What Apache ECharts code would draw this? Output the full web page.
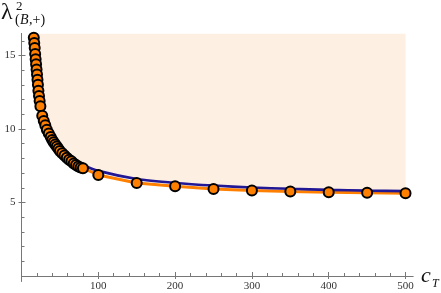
<!DOCTYPE html>
<html>
<head>
<meta charset="utf-8">
<script src="https://cdn.jsdelivr.net/npm/echarts@6/dist/echarts.min.js"></script>
<style>
html,body{margin:0;padding:0;background:#fff;}
#chart{width:441px;height:293px;}
</style>
</head>
<body>
<div id="chart"></div>
<script>
// ---- data ----
var cOrange = [16, 16.6, 17.2, 17.8, 18.4, 19, 19.6, 20.2, 20.8, 21.4, 22, 22.8, 23.6, 24.6,
  27, 29, 31, 33, 35.5, 38, 40, 42, 44, 46, 48, 50, 53, 56, 59, 62, 65, 68, 71, 74, 77, 80,
  100, 150, 200, 250, 300, 350, 400, 450, 500];
var lamOrange = [16.2, 15.85, 15.5, 15.1, 14.75, 14.4, 14.05, 13.7, 13.35, 13.0, 12.6, 12.25, 11.9, 11.55,
  10.9, 10.55, 10.25, 9.95, 9.7, 9.45, 9.25, 9.1, 8.95, 8.8, 8.65, 8.5, 8.35, 8.2, 8.05, 7.9, 7.8, 7.65, 7.55, 7.45, 7.38, 7.33,
  6.87, 6.33, 6.1, 5.92, 5.82, 5.75, 5.7, 5.67, 5.63];
var cBlue = [16.3, 18, 20, 22, 25, 28, 32, 36, 40, 45, 50, 60, 70, 80, 100, 150, 200, 250, 300, 350, 400, 450, 500];
var lamBlue = [16.5, 15.3, 14.1, 13.0, 11.85, 11.05, 10.35, 9.85, 9.45, 9.05, 8.75, 8.25, 7.85, 7.55,
  7.15, 6.6, 6.33, 6.15, 6.02, 5.93, 5.86, 5.81, 5.77];
var xMajor = [100, 200, 300, 400, 500];
var xMinor = [20, 40, 60, 80, 120, 140, 160, 180, 220, 240, 260, 280, 320, 340, 360, 380, 420, 440, 460, 480];
var yMajor = [5, 10, 15];
var yMinor = [1, 2, 3, 4, 6, 7, 8, 9, 11, 12, 13, 14, 16];
var xMin = 0, xMax = 510, yMin = 0, yMax = 16.5;
var regionLabel = 'excluded region';

function zip(a, b) { return a.map(function (v, i) { return [v, b[i]]; }); }

var AXIS = '#777777';
var SERIF = '"Liberation Serif","DejaVu Serif",serif';
var gridPos = { left: 21.5, top: 33.4, width: 391.7, height: 242.6 };

function tickAxis(gridIndex, min, max, values, inside, len) {
  return {
    type: 'value', gridIndex: gridIndex, min: min, max: max,
    axisLine: { show: false },
    axisTick: { show: true, inside: inside, length: len, customValues: values, lineStyle: { color: AXIS } },
    axisLabel: { show: false },
    splitLine: { show: false }
  };
}

var chart = echarts.init(document.getElementById('chart'), null, { renderer: 'canvas' });
chart.setOption({
  animation: false,
  backgroundColor: '#ffffff',
  grid: [
    Object.assign({ containLabel: false }, gridPos),
    Object.assign({ containLabel: false }, gridPos),
    Object.assign({ containLabel: false }, gridPos)
  ],
  xAxis: [{
    type: 'value', gridIndex: 0, min: xMin, max: xMax,
    axisLine: { show: true, onZero: false, lineStyle: { color: AXIS, width: 1 } },
    axisTick: { show: true, inside: true, length: 4, customValues: xMajor, lineStyle: { color: AXIS } },
    axisLabel: { show: true, customValues: xMajor, color: '#333', fontFamily: SERIF, fontSize: 11, margin: 5 },
    splitLine: { show: false }
  },
    tickAxis(1, xMin, xMax, xMajor, false, 3),
    tickAxis(2, xMin, xMax, xMinor, true, 3)
  ],
  yAxis: [{
    type: 'value', gridIndex: 0, min: yMin, max: yMax,
    axisLine: { show: true, onZero: false, lineStyle: { color: AXIS, width: 1 } },
    axisTick: { show: true, inside: true, length: 4, customValues: yMajor, lineStyle: { color: AXIS } },
    axisLabel: { show: true, customValues: yMajor, color: '#333', fontFamily: SERIF, fontSize: 11, margin: 6 },
    splitLine: { show: false }
  },
    tickAxis(1, yMin, yMax, yMajor, false, 3),
    tickAxis(2, yMin, yMax, yMinor, true, 3)
  ],
  series: [{
    name: 'region', type: 'line', xAxisIndex: 0, yAxisIndex: 0,
    data: zip(cBlue, lamBlue), symbol: 'none', silent: true,
    lineStyle: { width: 0 },
    areaStyle: { origin: 'end', color: '#fdefe2', opacity: 1 },
    z: 1
  }, {
    name: 'overhang', type: 'line', xAxisIndex: 0, yAxisIndex: 0, clip: false,
    data: [[-10, 0], [0, 0], [0, -0.4]], symbol: 'none', silent: true,
    lineStyle: { color: AXIS, width: 1 }, z: 1
  }, {
    name: 'orange', type: 'line', xAxisIndex: 0, yAxisIndex: 0,
    data: zip(cOrange, lamOrange), symbol: 'none',
    lineStyle: { color: '#ff8000', width: 3 }, z: 2
  }, {
    name: 'blue', type: 'line', xAxisIndex: 0, yAxisIndex: 0,
    data: zip(cBlue, lamBlue), symbol: 'none', smooth: 0.2,
    lineStyle: { color: '#221896', width: 2.6 }, z: 3
  }, {
    name: 'points', type: 'scatter', xAxisIndex: 0, yAxisIndex: 0,
    data: zip(cOrange, lamOrange), symbol: 'circle', symbolSize: 10,
    itemStyle: { color: '#ff8000', borderColor: '#000', borderWidth: 2, opacity: 1 },
    z: 4
  }],
  graphic: [{
    type: 'text', left: 150, top: 88,
    style: { text: regionLabel, font: '19.5px ' + SERIF, fill: '#111' }
  }, {
    type: 'text', left: 1, top: 1,
    style: { text: 'λ', font: '24px ' + SERIF, fill: '#111' }
  }, {
    type: 'text', left: 16, top: 0,
    style: { text: '2', font: '13px ' + SERIF, fill: '#111' }
  }, {
    type: 'text', left: 15, top: 13,
    style: { text: '(', font: '14px ' + SERIF, fill: '#111' }
  }, {
    type: 'text', left: 20, top: 13,
    style: { text: 'B', font: 'italic 14px ' + SERIF, fill: '#111' }
  }, {
    type: 'text', left: 29, top: 13,
    style: { text: ',+)', font: '14px ' + SERIF, fill: '#111' }
  }, {
    type: 'text', left: 421, top: 265,
    style: { text: 'c', font: 'italic 22px ' + SERIF, fill: '#111' }
  }, {
    type: 'text', left: 432, top: 278,
    style: { text: 'T', font: 'italic 12px ' + SERIF, fill: '#111' }
  }]
});
</script>
</body>
</html>
